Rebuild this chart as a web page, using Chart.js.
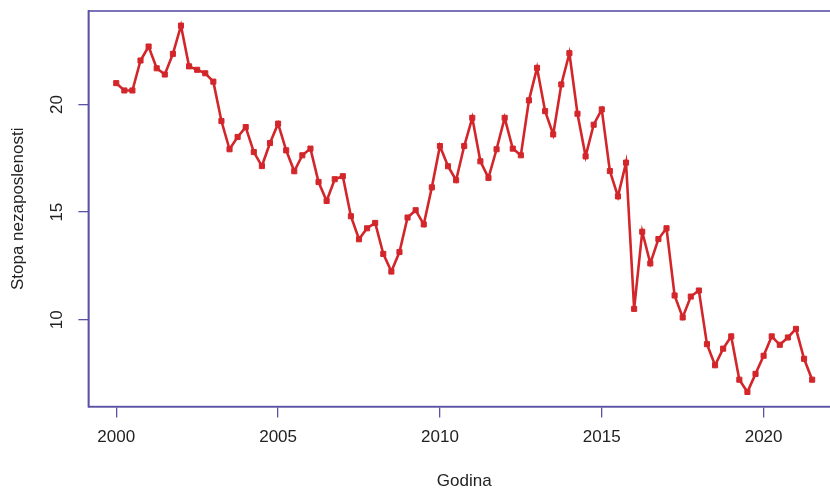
<!DOCTYPE html>
<html>
<head>
<meta charset="utf-8">
<script src="https://cdn.jsdelivr.net/npm/chart.js@4"></script>
<style>
  html, body { margin: 0; padding: 0; background: #fff; overflow: hidden; }
  #wrap { width: 845px; height: 489px; }
</style>
</head>
<body>
<div id="wrap"><canvas id="chart" width="845" height="489"></canvas></div>
<script>
// quarterly data, first quarter of 2000 onwards
const startYear = 2000;
const quarters = 4;
const rates = [
  20.99, 20.65, 20.65, 22.04,
  22.69, 21.68, 21.39, 22.35,
  23.66, 21.77, 21.61, 21.45,
  21.06, 19.23, 17.92, 18.49,
  18.95, 17.79, 17.14, 18.21,
  19.11, 17.87, 16.90, 17.64,
  17.95, 16.40, 15.52, 16.53,
  16.67, 14.81, 13.74, 14.25,
  14.50, 13.06, 12.24, 13.15,
  14.75, 15.09, 14.43, 16.15,
  18.07, 17.13, 16.48, 18.07,
  19.38, 17.36, 16.59, 17.92,
  19.38, 17.95, 17.64, 20.19,
  21.70, 19.69, 18.61, 20.93,
  22.38, 19.57, 17.59, 19.06,
  19.77, 16.91, 15.73, 17.30,
  10.51, 14.09, 12.62, 13.75,
  14.25, 11.13, 10.11, 11.08,
  11.36, 8.87, 7.89, 8.66,
  9.23, 7.22, 6.65, 7.49,
  8.33, 9.23, 8.84, 9.18,
  9.58, 8.19, 7.22
];
const xTicks = [2000, 2005, 2010, 2015, 2020];
const yTicks = [10, 15, 20];

const axisColor = '#5b52a6';
const textColor = '#222';
const lineColor = '#d3262b';
const fontFamily = '"Liberation Sans", Arial, sans-serif';

const points = rates.map((v, i) => ({ x: startYear + i / quarters, y: v }));

// R style frame + rotated y labels
const frame = {
  id: 'frame',
  afterDraw(chart) {
    const ctx = chart.ctx;
    const a = chart.chartArea;
    ctx.save();
    ctx.strokeStyle = axisColor;
    ctx.lineWidth = 1.6;
    ctx.strokeRect(a.left, a.top, a.right - a.left, a.bottom - a.top);
    const y = chart.scales.y;
    ctx.fillStyle = textColor;
    ctx.font = '17px ' + fontFamily;
    ctx.textAlign = 'center';
    ctx.textBaseline = 'middle';
    yTicks.forEach(t => {
      ctx.save();
      ctx.translate(57, y.getPixelForValue(t));
      ctx.rotate(-Math.PI / 2);
      ctx.fillText(String(t), 0, 0);
      ctx.restore();
    });
    ctx.restore();
  }
};

new Chart(document.getElementById('chart'), {
  type: 'line',
  data: {
    datasets: [{
      data: points,
      borderColor: lineColor,
      backgroundColor: lineColor,
      borderWidth: 2.6,
      pointStyle: 'rect',
      pointRadius: 3.6,
      pointBorderWidth: 1,
      tension: 0
    }]
  },
  options: {
    responsive: false,
    animation: false,
    layout: { padding: { top: 11, left: 0, right: 4, bottom: 0 } },
    plugins: { legend: { display: false }, tooltip: { enabled: false } },
    scales: {
      x: {
        type: 'linear',
        min: 1999.14,
        max: 2022.36,
        afterBuildTicks: s => { s.ticks = xTicks.map(v => ({ value: v })); },
        ticks: {
          color: textColor, font: { family: fontFamily, size: 17 }, padding: 10, maxRotation: 0,
          callback: v => String(v)
        },
        grid: { drawOnChartArea: false, tickLength: 11, color: axisColor, lineWidth: 1.3 },
        border: { color: axisColor, width: 1.6 },
        title: {
          display: true, text: 'Godina', color: textColor,
          font: { family: fontFamily, size: 17, lineHeight: 1 },
          padding: { top: 15, bottom: -1 }
        }
      },
      y: {
        min: 5.97,
        max: 24.34,
        afterBuildTicks: s => { s.ticks = yTicks.map(v => ({ value: v })); },
        ticks: { display: false },
        grid: { drawOnChartArea: false, tickLength: 10, color: axisColor, lineWidth: 1.3 },
        border: { color: axisColor, width: 1.6 },
        title: {
          display: true, text: 'Stopa nezaposlenosti', color: textColor,
          font: { family: fontFamily, size: 17, lineHeight: 1.2 },
          padding: { top: 8, bottom: 50 }
        }
      }
    }
  },
  plugins: [frame]
});
</script>
</body>
</html>
